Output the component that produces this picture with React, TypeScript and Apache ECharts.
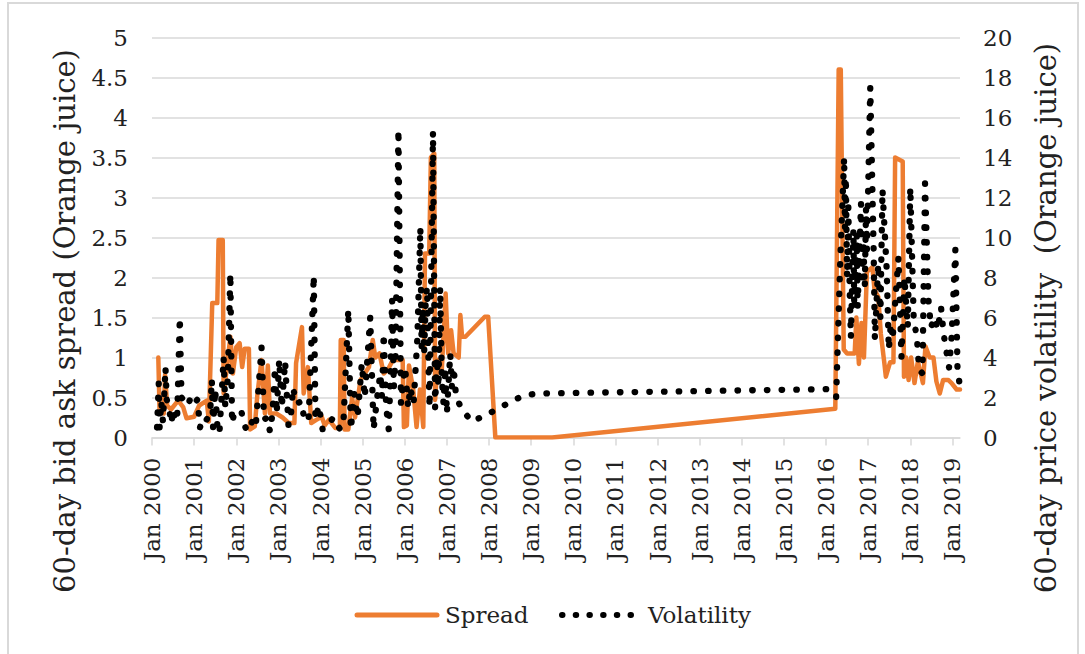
import React, { useEffect, useRef } from "react";
import * as echarts from "echarts";

// Year ticks along the bottom axis
const tickYears = [
  2000, 2001, 2002, 2003, 2004, 2005, 2006, 2007, 2008, 2009,
  2010, 2011, 2012, 2013, 2014, 2015, 2016, 2017, 2018, 2019,
];

// 60-day bid ask spread (decimal year, value)
const spreadYears = [
  2000.15, 2000.18, 2000.28, 2000.31, 2000.36, 2000.45, 2000.62, 2000.74, 2000.82, 2001.0,
  2001.12, 2001.3, 2001.35, 2001.43, 2001.55, 2001.58, 2001.68, 2001.7, 2001.78, 2001.86,
  2001.92, 2002.0, 2002.08, 2002.14, 2002.2, 2002.3, 2002.33, 2002.44, 2002.5, 2002.6,
  2002.68, 2002.75, 2002.8, 2002.95, 2003.1, 2003.25, 2003.38, 2003.42, 2003.56, 2003.6,
  2003.7, 2003.78, 2003.9, 2004.03, 2004.1, 2004.2, 2004.35, 2004.46, 2004.48, 2004.55,
  2004.57, 2004.66, 2004.75, 2004.82, 2004.95, 2005.05, 2005.15, 2005.24, 2005.3, 2005.4,
  2005.5, 2005.6, 2005.72, 2005.95, 2005.98, 2006.05, 2006.1, 2006.2, 2006.28, 2006.36,
  2006.44, 2006.48, 2006.58, 2006.62, 2006.7, 2006.72, 2006.78, 2006.88, 2006.97, 2007.03,
  2007.1, 2007.16, 2007.28, 2007.32, 2007.36, 2007.44, 2007.9, 2007.98, 2008.15, 2009.5,
  2016.22, 2016.3, 2016.35, 2016.42, 2016.5, 2016.68, 2016.72, 2016.78, 2016.84, 2016.9,
  2016.97, 2017.1, 2017.15, 2017.24, 2017.3, 2017.38, 2017.42, 2017.52, 2017.6, 2017.64,
  2017.82, 2017.85, 2017.9, 2017.96, 2018.02, 2018.1, 2018.18, 2018.3, 2018.36, 2018.46,
  2018.55, 2018.62, 2018.7, 2018.78, 2018.9, 2018.98, 2019.1, 2019.18,
];
const spreadValues = [
  1.0, 0.32, 0.3, 0.78, 0.4, 0.35, 0.46, 0.38, 0.24, 0.26,
  0.4, 0.46, 0.2, 1.68, 1.68, 2.47, 2.47, 0.55, 0.88, 1.26,
  0.8, 1.13, 1.18, 0.88, 1.11, 1.11, 0.1, 0.14, 0.53, 0.97,
  0.3, 0.9, 0.3, 0.3, 0.25, 0.18, 0.18, 0.93, 1.38, 0.55,
  0.88, 0.18, 0.22, 0.26, 0.15, 0.22, 0.12, 0.12, 1.22, 1.22,
  0.1, 0.1, 0.5, 0.25, 0.72, 0.8, 0.88, 1.22, 1.0, 1.05,
  0.8, 0.85, 0.97, 0.97, 0.13, 0.15, 0.9, 0.6, 0.13, 0.6,
  0.13, 2.3, 2.3, 3.5, 3.55, 0.47, 0.97, 0.85, 1.8, 1.05,
  1.34, 1.05, 1.0, 1.53, 1.26, 1.26, 1.51, 1.51, 0.0, 0.0,
  0.36, 4.6, 4.6, 1.1, 1.05, 1.05, 1.5, 0.92, 1.43, 1.0,
  2.07, 2.13, 1.85, 1.76, 1.3, 0.95, 0.76, 0.94, 0.94, 3.5,
  3.45, 0.76, 1.0, 0.72, 1.0, 0.68, 0.95, 0.68, 1.14, 1.0,
  1.0, 0.7, 0.55, 0.72, 0.72, 0.68, 0.6, 0.6,
];

// 60-day price volatility (decimal year, value)
const volYears = [
  2000.12, 2000.16, 2000.18, 2000.22, 2000.26, 2000.3, 2000.32, 2000.35, 2000.4, 2000.46,
  2000.5, 2000.55, 2000.6, 2000.66, 2000.7, 2000.78, 2000.85, 2000.92, 2001.0, 2001.08,
  2001.14, 2001.2, 2001.3, 2001.38, 2001.42, 2001.45, 2001.5, 2001.56, 2001.6, 2001.65,
  2001.7, 2001.74, 2001.8, 2001.86, 2001.9, 2001.96, 2002.12, 2002.2, 2002.26, 2002.38,
  2002.46, 2002.6, 2002.66, 2002.74, 2002.8, 2002.86, 2002.92, 2002.96, 2003.02, 2003.08,
  2003.16, 2003.24, 2003.3, 2003.35, 2003.42, 2003.55, 2003.62, 2003.72, 2003.84, 2003.88,
  2003.96, 2004.05, 2004.15, 2004.3, 2004.4, 2004.47, 2004.55, 2004.66, 2004.72, 2004.8,
  2004.88, 2004.98, 2005.05, 2005.18, 2005.26, 2005.34, 2005.42, 2005.46, 2005.5, 2005.56,
  2005.62, 2005.66, 2005.7, 2005.74, 2005.78, 2005.85, 2005.91, 2005.96, 2006.01, 2006.08,
  2006.13, 2006.21, 2006.3, 2006.37, 2006.4, 2006.43, 2006.46, 2006.5, 2006.53, 2006.57,
  2006.59, 2006.67, 2006.72, 2006.76, 2006.8, 2006.84, 2006.88, 2006.92, 2006.96, 2007.0,
  2007.08, 2007.12, 2007.16, 2007.22, 2007.36, 2007.59, 2007.91, 2008.23, 2008.52, 2008.82,
  2009.16, 2016.06, 2016.24, 2016.34, 2016.43, 2016.45, 2016.47, 2016.5, 2016.53, 2016.56,
  2016.59, 2016.65, 2016.67, 2016.73, 2016.75, 2016.83, 2016.86, 2016.89, 2016.92, 2016.95,
  2016.97, 2017.05, 2017.13, 2017.16, 2017.24, 2017.29, 2017.34, 2017.4, 2017.44, 2017.49,
  2017.54, 2017.58, 2017.65, 2017.72, 2017.79, 2017.86, 2017.94, 2018.0, 2018.08, 2018.16,
  2018.21, 2018.29, 2018.35, 2018.43, 2018.49, 2018.57, 2018.65, 2018.73, 2018.79, 2018.85,
  2018.92, 2018.98, 2019.07, 2019.12, 2019.18,
];
const volValues = [
  0.5, 2.7, 0.5, 1.8, 0.8, 2.5, 3.5, 1.9, 1.5, 0.7,
  1.4, 0.8, 1.2, 6.0, 2.0, 1.8, 1.6, 2.0, 1.7, 1.9,
  0.5, 1.0, 0.9, 1.2, 2.9, 0.5, 2.4, 0.3, 0.2, 2.0,
  4.0, 1.5, 3.0, 8.2, 0.7, 1.3, 1.3, 0.6, 0.3, 0.8,
  0.5, 4.5, 0.9, 1.0, 0.3, 1.2, 3.5, 1.2, 3.9, 1.5,
  3.8, 0.6, 1.2, 2.5, 1.7, 1.8, 0.8, 1.0, 8.1, 0.9,
  1.6, 0.4, 0.5, 1.0, 0.6, 0.4, 1.0, 6.4, 0.4, 2.2,
  1.0, 3.7, 2.0, 6.0, 0.4, 1.9, 3.2, 2.0, 5.2, 1.5,
  0.4, 3.0, 6.9, 2.5, 4.0, 15.4, 1.7, 2.8, 3.5, 1.5,
  2.5, 1.7, 5.0, 10.5, 4.5, 6.5, 4.2, 7.0, 7.5, 3.0,
  1.5, 15.3, 1.5, 4.0, 2.5, 7.5, 3.0, 1.7, 3.5, 1.2,
  4.2, 2.5, 3.5, 2.0, 1.4, 0.8, 1.1, 1.46, 1.79, 2.1,
  2.2, 2.42, 2.0, 9.0, 14.0, 10.5, 13.0, 8.0, 11.5, 7.5,
  5.0, 10.4, 6.4, 10.2, 6.5, 11.7, 8.0, 9.5, 7.5, 11.5,
  9.4, 17.5, 9.4, 4.9, 8.7, 6.0, 12.4, 10.0, 8.4, 4.4,
  5.7, 4.9, 7.0, 9.0, 4.0, 8.0, 5.5, 12.5, 6.0, 4.9,
  3.4, 3.2, 12.7, 6.9, 5.5, 6.0, 5.4, 6.5, 5.2, 4.4,
  3.5, 5.0, 9.4, 3.5, 2.5,
];

const FONT = "DejaVu Serif";
const TEXT = "#222222";
const GRID = "#d9d9d9";
const ORANGE = "#ED7D31";
const DOTS = [0.5, 14.2];

function pairs(xs: number[], ys: number[]) {
  return xs.map((x, i) => [x, ys[i]]);
}

export default function App() {
  const ref = useRef<HTMLDivElement>(null);

  useEffect(() => {
    if (!ref.current) return;
    const chart = echarts.init(ref.current, undefined, { renderer: "svg" });
    chart.setOption({
      animation: false,
      backgroundColor: "#ffffff",
      grid: { left: 152, right: 125, top: 37.5, bottom: 216.5, containLabel: false },
      xAxis: {
        type: "value",
        min: 2000,
        max: 2019.18,
        interval: 1,
        splitLine: { show: false },
        axisLine: { show: true, lineStyle: { color: GRID, width: 1.5 } },
        axisTick: {
          show: true,
          length: 8,
          customValues: tickYears,
          lineStyle: { color: GRID, width: 1.5 },
        },
        axisLabel: {
          customValues: tickYears,
          rotate: 90,
          margin: 20,
          fontFamily: FONT,
          fontSize: 23,
          color: TEXT,
          formatter: (v: number) => "Jan " + Math.round(v),
        },
      },
      yAxis: [
        {
          type: "value",
          min: 0,
          max: 5,
          interval: 0.5,
          axisLine: { show: false },
          axisTick: { show: false },
          splitLine: { lineStyle: { color: GRID, width: 1.5 } },
          axisLabel: { margin: 24, fontFamily: FONT, fontSize: 23, color: TEXT },
        },
        {
          type: "value",
          min: 0,
          max: 20,
          interval: 2,
          axisLine: { show: false },
          axisTick: { show: false },
          splitLine: { show: false },
          axisLabel: { margin: 23, fontFamily: FONT, fontSize: 23, color: TEXT },
        },
      ],
      series: [
        {
          name: "Spread",
          type: "line",
          yAxisIndex: 0,
          data: pairs(spreadYears, spreadValues),
          showSymbol: false,
          symbol: "none",
          lineStyle: { color: ORANGE, width: 4.5, join: "round", cap: "round" },
          itemStyle: { color: ORANGE },
          z: 2,
        },
        {
          name: "Volatility",
          type: "line",
          yAxisIndex: 1,
          data: pairs(volYears, volValues),
          showSymbol: false,
          symbol: "none",
          lineStyle: { color: "#000000", width: 6.3, type: DOTS, cap: "round", join: "round" },
          itemStyle: { color: "#000000" },
          z: 3,
        },
      ],
      graphic: [
        {
          type: "rect",
          shape: { x: 8, y: 3, width: 1070, height: 670 },
          style: { fill: "none", stroke: GRID, lineWidth: 2 },
          silent: true,
        },
        {
          type: "text",
          x: 65,
          y: 321,
          rotation: Math.PI / 2,
          style: {
            text: "60-day bid ask spread (Orange juice)",
            fontFamily: FONT,
            fontSize: 29,
            fill: TEXT,
            align: "center",
            verticalAlign: "middle",
          },
        },
        {
          type: "text",
          x: 1046,
          y: 318,
          rotation: Math.PI / 2,
          style: {
            text: "60-day price volatility  (Orange juice)",
            fontFamily: FONT,
            fontSize: 29,
            fill: TEXT,
            align: "center",
            verticalAlign: "middle",
          },
        },
        {
          type: "line",
          shape: { x1: 357, y1: 615, x2: 437, y2: 615 },
          style: { stroke: ORANGE, lineWidth: 5, lineCap: "round" },
        },
        {
          type: "text",
          x: 445,
          y: 615,
          style: {
            text: "Spread",
            fontFamily: FONT,
            fontSize: 23,
            fill: TEXT,
            align: "left",
            verticalAlign: "middle",
          },
        },
        {
          type: "line",
          shape: { x1: 562, y1: 615, x2: 642, y2: 615 },
          style: { stroke: "#000000", lineWidth: 6, lineCap: "round", lineDash: [0.5, 13.2] },
        },
        {
          type: "text",
          x: 648,
          y: 615,
          style: {
            text: "Volatility",
            fontFamily: FONT,
            fontSize: 23,
            fill: TEXT,
            align: "left",
            verticalAlign: "middle",
          },
        },
      ],
    });
    return () => chart.dispose();
  }, []);

  return (
    <div
      ref={ref}
      style={{ position: "fixed", left: 0, top: 0, width: 1085, height: 654, background: "#fff" }}
    />
  );
}
